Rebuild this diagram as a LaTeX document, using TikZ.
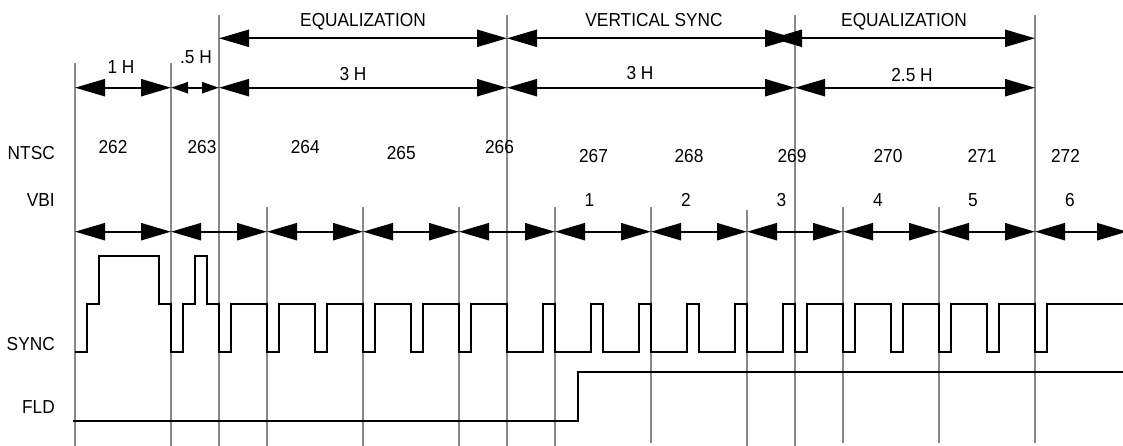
\documentclass[tikz,border=0pt]{standalone}
\usepackage{fontspec}
\setmainfont{Liberation Sans}[FakeStretch=0.92]
\usetikzlibrary{arrows.meta}
\definecolor{gridgray}{RGB}{136,136,136}
\begin{document}
\begin{tikzpicture}[x=1pt,y=-1pt,
  gridline/.style={draw=gridgray, line width=2pt},
  lbl/.style={font=\fontsize{18.8}{22}\selectfont, inner sep=0pt, anchor=base},
  sidelbl/.style={lbl, anchor=base east},
  dimarrow/.style={line width=2.3pt, {Triangle[length=30pt,width=17pt]}-{Triangle[length=30pt,width=17pt]}},
  smallarrow/.style={line width=2.3pt, {Triangle[length=17pt,width=11pt]}-{Triangle[length=17pt,width=11pt]}},
  wave/.style={line width=2.5pt, line join=miter}
]
\useasboundingbox (0,0) rectangle (1123,446);

% vertical grid lines
\foreach \x in {219,507,795} \draw[gridline] (\x,15) -- (\x,446);
\draw[gridline] (1035,15) -- (1035,443);
\foreach \x in {75,171} \draw[gridline] (\x,63) -- (\x,446);
\foreach \x in {267,363,459,555} \draw[gridline] (\x,207) -- (\x,446);
\foreach \x in {651,843,939} \draw[gridline] (\x,207) -- (\x,443);
\draw[gridline] (747,210) -- (747,446);

% coordinates
\foreach \x in {219,507,795,772,1035} \coordinate (t\x) at (\x,38.3);
\foreach \x in {75,171,219,507,795,1035} \coordinate (m\x) at (\x,87.7);
\foreach \x in {75,171,267,363,459,555,651,747,843,939,1035,1127} \coordinate (h\x) at (\x,231.7);

% top arrows
\draw[dimarrow] (t219) -- (t507);
\draw[dimarrow] (t507) -- (t795);
\draw[dimarrow] (t772) -- (t1035);
\node[lbl] (eq1) at (363,26.8) {EQUALIZATION};
\node[lbl] (vs) at (654,26.8) {VERTICAL SYNC};
\node[lbl] (eq2) at (904,26.8) {EQUALIZATION};

% second row
\draw[dimarrow] (m75) -- (m171);
\draw[smallarrow] (m171) -- (m219);
\draw[dimarrow] (m219) -- (m507);
\draw[dimarrow] (m507) -- (m795);
\draw[dimarrow] (m795) -- (m1035);
\node[lbl] (oneh) at (121,73.7) {1 H};
\node[lbl] (halfh) at (196,63.7) {.5 H};
\node[lbl] (threeh1) at (353,80.7) {3 H};
\node[lbl] (threeh2) at (640,79.7) {3 H};
\node[lbl] (twohalfh) at (912,81.7) {2.5 H};

% line arrows
\draw[dimarrow] (h75) -- (h171);
\draw[dimarrow] (h171) -- (h267);
\draw[dimarrow] (h267) -- (h363);
\draw[dimarrow] (h363) -- (h459);
\draw[dimarrow] (h459) -- (h555);
\draw[dimarrow] (h555) -- (h651);
\draw[dimarrow] (h651) -- (h747);
\draw[dimarrow] (h747) -- (h843);
\draw[dimarrow] (h843) -- (h939);
\draw[dimarrow] (h939) -- (h1035);
\draw[dimarrow] (h1035) -- (h1127);

% side labels
\node[sidelbl] (ntsc) at (55,159.9) {NTSC};
\node[sidelbl] (vbi) at (55,206.5) {VBI};
\node[sidelbl] (sync) at (55,350.5) {SYNC};
\node[sidelbl] (fld) at (55,413.7) {FLD};

% NTSC line numbers
\node[lbl] (n262) at (113,153.1) {262};
\node[lbl] (n263) at (202,153.5) {263};
\node[lbl] (n264) at (305.3,153.7) {264};
\node[lbl] (n265) at (401.3,159.3) {265};
\node[lbl] (n266) at (499.5,153.7) {266};
\node[lbl] (n267) at (593.5,162.4) {267};
\node[lbl] (n268) at (689,162.4) {268};
\node[lbl] (n269) at (792,162.4) {269};
\node[lbl] (n270) at (888,162.4) {270};
\node[lbl] (n271) at (982,162.4) {271};
\node[lbl] (n272) at (1065.5,162.4) {272};

% VBI line numbers
\node[lbl] (v1) at (589.3,206.3) {1};
\node[lbl] (v2) at (686,206.3) {2};
\node[lbl] (v3) at (781.5,206.3) {3};
\node[lbl] (v4) at (878,206.3) {4};
\node[lbl] (v5) at (973,206.3) {5};
\node[lbl] (v6) at (1070,206.3) {6};

% SYNC waveform
\draw[wave] (75,352) -- (87,352) -- (87,304) -- (99,304) -- (99,256) -- (159,256)
  -- (159,304) -- (171,304) -- (171,352) -- (183,352) -- (183,304) -- (195,304)
  -- (195,256) -- (207,256) -- (207,304)
  \foreach \p in {219,267,315,363,411,459} { -- (\p,304) -- (\p,352) -- ({\p+12},352) -- ({\p+12},304) }
  \foreach \q in {507,555,603,651,699,747} { -- (\q,304) -- (\q,352) -- ({\q+36},352) -- ({\q+36},304) }
  \foreach \p in {795,843,891,939,987,1035} { -- (\p,304) -- (\p,352) -- ({\p+12},352) -- ({\p+12},304) }
  -- (1124,304);

% FLD waveform
\draw[wave] (73,421) -- (578,421) -- (578,372) -- (1124,372);
\end{tikzpicture}
\end{document}
